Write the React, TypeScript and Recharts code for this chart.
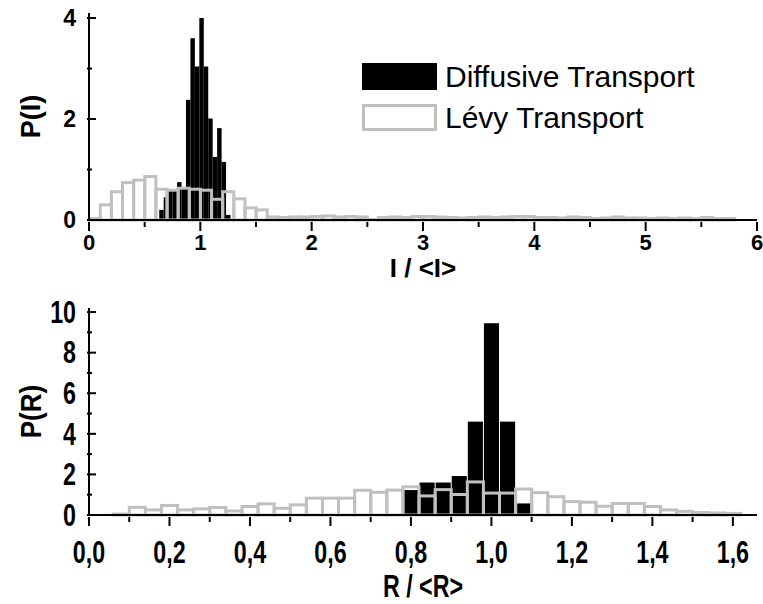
import React from "react";
import { ComposedChart, Bar, XAxis, YAxis, Legend } from "recharts";

// ---- top panel: P(I) against I/<I> ----
const iLevyBins = [
  0.05, 0.15, 0.25, 0.35, 0.45, 0.55, 0.65, 0.75, 0.85, 0.95, 1.05, 1.15, 1.25, 1.35, 1.45, 1.55,
  1.65, 1.75, 1.85, 1.95, 2.05, 2.15, 2.25, 2.35, 2.45, 2.55, 2.65, 2.75, 2.85, 2.95, 3.05, 3.15,
  3.25, 3.35, 3.45, 3.55, 3.65, 3.75, 3.85, 3.95, 4.05, 4.15, 4.25, 4.35, 4.45, 4.55, 4.65, 4.75,
  4.85, 4.95, 5.05, 5.15, 5.25, 5.35, 5.45, 5.55, 5.65, 5.75,
];
const iLevyP = [
  0.03, 0.3, 0.56, 0.74, 0.79, 0.86, 0.61, 0.59, 0.63, 0.61, 0.59, 0.41, 0.56, 0.42, 0.24, 0.2,
  0.06, 0.05, 0.06, 0.06, 0.07, 0.08, 0.06, 0.07, 0.06, 0.01, 0.05, 0.06, 0.05, 0.07, 0.07, 0.06,
  0.05, 0.04, 0.05, 0.06, 0.05, 0.06, 0.07, 0.07, 0.05, 0.05, 0.04, 0.06, 0.05, 0.03, 0.04, 0.06,
  0.04, 0.04, 0.03, 0.04, 0.03, 0.04, 0.03, 0.05, 0.03, 0.03,
];
const iDiffBins = [
  0.65, 0.69, 0.73, 0.77, 0.81, 0.85, 0.89, 0.93, 0.97, 1.01, 1.05, 1.09, 1.13, 1.17, 1.21, 1.25,
];
const iDiffP = [0.2, 0.45, 0.6, 0.6, 0.75, 0.62, 2.38, 3.6, 3.04, 4.0, 3.04, 2.01, 1.25, 1.82, 1.15, 0.1];

const iTicksX = [0, 0.5, 1, 1.5, 2, 2.5, 3, 3.5, 4, 4.5, 5, 5.5, 6];
const iLabelsX = [0, 1, 2, 3, 4, 5, 6];
const iTicksY = [0, 1, 2, 3, 4];
const iLabelsY = [0, 2, 4];

// ---- bottom panel: P(R) against R/<R> ----
const rLevyBins = [
  0.08, 0.12, 0.16, 0.2, 0.24, 0.28, 0.32, 0.36, 0.4, 0.44, 0.48, 0.52, 0.56, 0.6, 0.64, 0.68,
  0.72, 0.76, 0.8, 0.84, 0.88, 0.92, 0.96, 1.0, 1.04, 1.08, 1.12, 1.16, 1.2, 1.24, 1.28, 1.32,
  1.36, 1.4, 1.44, 1.48, 1.52, 1.56, 1.6,
];
const rLevyP = [
  0.05, 0.38, 0.25, 0.47, 0.25, 0.3, 0.37, 0.2, 0.42, 0.55, 0.33, 0.5, 0.83, 0.83, 0.83, 1.22,
  1.12, 1.23, 1.39, 0.94, 1.25, 1.01, 1.63, 1.08, 1.08, 1.28, 1.1, 0.9, 0.66, 0.63, 0.43, 0.57,
  0.57, 0.42, 0.25, 0.18, 0.12, 0.1, 0.08,
];
const rDiffBins = [0.8, 0.84, 0.88, 0.92, 0.96, 1.0, 1.04, 1.08];
const rDiffP = [1.23, 1.6, 1.6, 1.92, 4.6, 9.45, 4.6, 0.57];

const rTicksX = [0, 0.1, 0.2, 0.3, 0.4, 0.5, 0.6, 0.7, 0.8, 0.9, 1.0, 1.1, 1.2, 1.3, 1.4, 1.5, 1.6];
const rLabelsX = [0, 0.2, 0.4, 0.6, 0.8, 1.0, 1.2, 1.4, 1.6];
const rTicksY = [0, 1, 2, 3, 4, 5, 6, 7, 8, 9, 10];
const rLabelsY = [0, 2, 4, 6, 8, 10];

const seriesNames = ["Diffusive Transport", "Lévy Transport"];

const W = 763;
const LEFT = 89;
const RIGHT = 6;
const PLOT_W = W - LEFT - RIGHT;
const GREY = "#c0c0c0";
const FONT = "'Liberation Sans', Arial, sans-serif";

const buildRows = (lx: number[], ly: number[], dx: number[], dy: number[]) => {
  const rows: { x: number; levy?: number; diff?: number }[] = [];
  lx.forEach((x, i) => rows.push({ x, levy: ly[i] }));
  dx.forEach((x, i) => rows.push({ x, diff: dy[i] }));
  return rows.sort((a, b) => a.x - b.x);
};

const iRows = buildRows(iLevyBins, iLevyP, iDiffBins, iDiffP);
const rRows = buildRows(rLevyBins, rLevyP, rDiffBins, rDiffP);

const has = (list: number[], v: number) => list.some((m) => Math.abs(m - v) < 1e-6);

// bar keeps the centre and height recharts gives it, but uses the real bin width
const binShape = (px: number) => (p: any) => {
  if (!Number.isFinite(p.height) || !Number.isFinite(p.y) || p.height === 0) return <g />;
  const cx = p.x + p.width / 2;
  return (
    <rect
      x={cx - px / 2}
      y={p.y}
      width={px}
      height={p.height}
      fill={p.fill}
      stroke={p.stroke}
      strokeWidth={p.strokeWidth}
    />
  );
};

type Side = "bottom" | "top" | "left" | "right";

const txt = (x: number, y: number, s: string, size: number, sx: number, anchor: string, central = false) => (
  <text
    transform={`translate(${x} ${y}) scale(${sx} 1)`}
    x={0}
    y={0}
    textAnchor={anchor}
    dominantBaseline={central ? "central" : "alphabetic"}
    style={{ fontFamily: FONT, fontSize: size, fontWeight: 700, fill: "#000" }}
  >
    {s}
  </text>
);

// tick marks (major / minor) and the label for major ticks
const makeTick =
  (side: Side, majors: number[], fmt: ((v: number) => string) | null, size: number, gap: number, sx = 1) =>
  (p: any) => {
    const { x, y, payload } = p;
    const v = payload.value;
    const major = has(majors, v);
    const len = major ? 9 : 5;
    let line;
    if (side === "bottom" || side === "top") line = <line x1={x} x2={x} y1={y} y2={y + len} />;
    else if (side === "left") line = <line x1={x} x2={x + len} y1={y} y2={y} />;
    else line = <line x1={x} x2={x - len} y1={y} y2={y} />;
    let label = null;
    if (fmt && major) {
      label =
        side === "bottom" ? txt(x, y + gap, fmt(v), size, sx, "middle") : txt(x - gap, y, fmt(v), size, sx, "end", true);
    }
    return (
      <g>
        <g stroke="#000" strokeWidth={2}>
          {line}
        </g>
        {label}
      </g>
    );
  };

const titleX = (text: string, dy: number, size: number, sx = 1) => (p: any) => {
  const vb = p.viewBox;
  return txt(vb.x + vb.width / 2, vb.y + dy, text, size, sx, "middle");
};

const titleY = (text: string, cx: number, size: number, sx = 1) => (p: any) => {
  const vb = p.viewBox;
  const cy = vb.y + vb.height / 2;
  return (
    <text
      transform={`translate(${cx} ${cy}) rotate(-90) scale(${sx} 1)`}
      x={0}
      y={0}
      textAnchor="middle"
      dominantBaseline="central"
      style={{ fontFamily: FONT, fontSize: size, fontWeight: 700, fill: "#000" }}
    >
      {text}
    </text>
  );
};

const renderLegend = () => (
  <div style={{ fontFamily: FONT, fontSize: 30, lineHeight: "41px", color: "#000" }}>
    <div style={{ display: "flex", alignItems: "center" }}>
      <svg width={76} height={28} style={{ marginRight: 7 }}>
        <rect x={0} y={0} width={75} height={27} fill="#000" />
      </svg>
      {seriesNames[0]}
    </div>
    <div style={{ display: "flex", alignItems: "center" }}>
      <svg width={76} height={28} style={{ marginRight: 7 }}>
        <rect x={1.5} y={1.5} width={72} height={24} fill="#fff" stroke={GREY} strokeWidth={3} />
      </svg>
      {seriesNames[1]}
    </div>
  </div>
);

const axisLine = { stroke: "#000", strokeWidth: 2 };

export default function App() {
  const iSpan = 6;
  const rSpan = 1.66;
  const narrow = 0.75;
  return (
    <div style={{ position: "absolute", left: 0, top: 0, width: W, height: 604, background: "#fff" }}>
      <div style={{ position: "absolute", left: 0, top: 0 }}>
        <ComposedChart width={W} height={282} data={iRows} margin={{ top: 13, right: RIGHT, bottom: 0, left: 0 }}>
          <XAxis
            xAxisId="b"
            dataKey="x"
            type="number"
            domain={[0, iSpan]}
            ticks={iTicksX}
            interval={0}
            height={62}
            tickSize={0}
            tickLine={false}
            axisLine={axisLine}
            tick={makeTick("bottom", iLabelsX, (v) => String(v), 22, 28)}
            label={titleX("I / <I>", 57, 26)}
          />
          <XAxis
            xAxisId="t"
            dataKey="x"
            type="number"
            orientation="top"
            domain={[0, iSpan]}
            ticks={iTicksX}
            interval={0}
            height={0}
            tickSize={0}
            tickLine={false}
            axisLine={axisLine}
            tick={makeTick("top", iLabelsX, null, 22, 0)}
          />
          <YAxis
            yAxisId="l"
            type="number"
            domain={[0, 4.1]}
            ticks={iTicksY}
            interval={0}
            width={LEFT}
            tickSize={0}
            tickLine={false}
            axisLine={axisLine}
            tick={makeTick("left", iLabelsY, (v) => String(v), 23, 11)}
            label={titleY("P(I)", 31, 27)}
          />
          <YAxis
            yAxisId="r"
            type="number"
            orientation="right"
            domain={[0, 4.1]}
            ticks={iTicksY}
            interval={0}
            width={0}
            tickSize={0}
            tickLine={false}
            axisLine={axisLine}
            tick={makeTick("right", iLabelsY, null, 23, 0)}
          />
          <Legend
            layout="vertical"
            align="center"
            verticalAlign="middle"
            content={renderLegend}
            wrapperStyle={{ left: 362, top: 56, width: 380 }}
          />
          <Bar
            xAxisId="b"
            yAxisId="l"
            dataKey="diff"
            name={seriesNames[0]}
            fill="#000"
            shape={binShape((0.04 * PLOT_W) / iSpan)}
            isAnimationActive={false}
          />
          <Bar
            xAxisId="t"
            yAxisId="l"
            dataKey="levy"
            name={seriesNames[1]}
            fill="none"
            stroke={GREY}
            strokeWidth={3}
            shape={binShape((0.1 * PLOT_W) / iSpan)}
            isAnimationActive={false}
          />
        </ComposedChart>
      </div>
      <div style={{ position: "absolute", left: 0, top: 282 }}>
        <ComposedChart width={W} height={322} data={rRows} margin={{ top: 26, right: RIGHT, bottom: 0, left: 0 }}>
          <XAxis
            xAxisId="b"
            dataKey="x"
            type="number"
            domain={[0, rSpan]}
            ticks={rTicksX}
            interval={0}
            height={89}
            tickSize={0}
            tickLine={false}
            axisLine={axisLine}
            tick={makeTick("bottom", rLabelsX, (v) => v.toFixed(1).replace(".", ","), 31, 46, narrow)}
            label={titleX("R / <R>", 82, 31, narrow)}
          />
          <XAxis
            xAxisId="t"
            dataKey="x"
            type="number"
            orientation="top"
            domain={[0, rSpan]}
            ticks={rTicksX}
            interval={0}
            height={0}
            tickSize={0}
            tickLine={false}
            axisLine={axisLine}
            tick={makeTick("top", rLabelsX, null, 31, 0)}
          />
          <YAxis
            yAxisId="l"
            type="number"
            domain={[0, 10.2]}
            ticks={rTicksY}
            interval={0}
            width={LEFT}
            tickSize={0}
            tickLine={false}
            axisLine={axisLine}
            tick={makeTick("left", rLabelsY, (v) => String(v), 31, 11, narrow)}
            label={titleY("P(R)", 31, 29, 0.9)}
          />
          <YAxis
            yAxisId="r"
            type="number"
            orientation="right"
            domain={[0, 10.2]}
            ticks={rTicksY}
            interval={0}
            width={0}
            tickSize={0}
            tickLine={false}
            axisLine={axisLine}
            tick={makeTick("right", rLabelsY, null, 31, 0)}
          />
          <Bar
            xAxisId="b"
            yAxisId="l"
            dataKey="diff"
            name={seriesNames[0]}
            fill="#000"
            shape={binShape((0.04 * PLOT_W) / rSpan - 1)}
            isAnimationActive={false}
          />
          <Bar
            xAxisId="t"
            yAxisId="l"
            dataKey="levy"
            name={seriesNames[1]}
            fill="none"
            stroke={GREY}
            strokeWidth={3}
            shape={binShape((0.04 * PLOT_W) / rSpan)}
            isAnimationActive={false}
          />
        </ComposedChart>
      </div>
    </div>
  );
}
